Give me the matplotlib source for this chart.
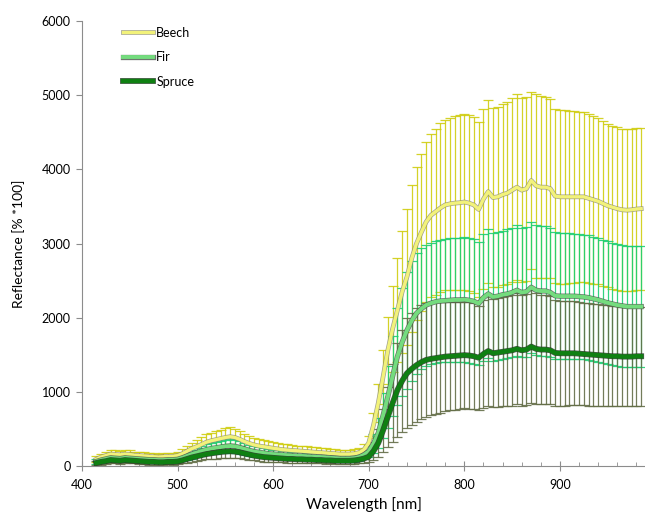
import numpy as np
import matplotlib
matplotlib.use('Agg')
import matplotlib.pyplot as plt
from matplotlib.ticker import MultipleLocator
import matplotlib.patheffects as pe

plt.rcParams['font.family'] = ['Lato', 'DejaVu Sans']

# band centres (nm), 415 ... 985
wavelength = np.arange(415, 990, 5)

beech_mean = [90, 120, 140, 160, 155, 150, 160, 155, 145, 140, 135, 130, 125, 120, 125, 130, 130, 140,
              165, 200, 235, 260, 290, 320, 340, 355, 370, 385, 395, 385, 360, 330, 305, 285, 270, 260,
              250, 240, 230, 220, 215, 210, 205, 200, 195, 190, 185, 180, 175, 170, 165, 160, 160, 160,
              165, 180, 220, 310, 550, 850, 1200, 1560, 1850, 2100, 2350, 2550, 2800, 3000, 3150, 3290, 3380, 3430,
              3480, 3520, 3535, 3545, 3550, 3560, 3545, 3520, 3460, 3600, 3700, 3620, 3630, 3660, 3680, 3720, 3760, 3720,
              3740, 3850, 3780, 3760, 3760, 3740, 3640, 3630, 3630, 3630, 3630, 3630, 3630, 3610, 3590, 3570, 3540, 3510,
              3490, 3470, 3455, 3450, 3455, 3465, 3470]
beech_sd = [40, 45, 50, 55, 55, 55, 55, 55, 50, 50, 50, 50, 45, 45, 45, 45, 45, 50,
            60, 70, 80, 90, 100, 105, 110, 115, 120, 125, 125, 120, 115, 105, 100, 95, 90, 85,
            85, 80, 80, 75, 75, 75, 70, 70, 70, 70, 65, 65, 65, 60, 60, 55, 55, 55,
            60, 65, 75, 100, 170, 260, 360, 450, 580, 700, 820, 920, 990, 1030, 1060, 1080, 1100, 1120,
            1140, 1150, 1160, 1170, 1180, 1190, 1190, 1190, 1180, 1210, 1230, 1210, 1210, 1220, 1230, 1240, 1250, 1240,
            1240, 1200, 1240, 1230, 1220, 1210, 1170, 1170, 1170, 1160, 1160, 1150, 1150, 1140, 1130, 1120, 1110, 1100,
            1100, 1100, 1090, 1090, 1090, 1090, 1090]

fir_mean = [60, 80, 95, 110, 105, 100, 110, 105, 100, 95, 90, 85, 85, 80, 80, 85, 85, 90,
            110, 135, 160, 180, 200, 220, 235, 245, 255, 265, 270, 265, 250, 230, 210, 195, 185, 175,
            165, 160, 155, 150, 145, 140, 135, 135, 130, 125, 125, 120, 115, 110, 105, 100, 100, 100,
            105, 120, 150, 195, 300, 445, 680, 935, 1210, 1475, 1670, 1830, 1960, 2060, 2120, 2170, 2195, 2215,
            2225, 2230, 2235, 2240, 2240, 2245, 2235, 2220, 2190, 2270, 2320, 2280, 2290, 2310, 2320, 2340, 2370, 2340,
            2350, 2410, 2370, 2360, 2360, 2340, 2295, 2290, 2290, 2290, 2290, 2285, 2280, 2270, 2255, 2240, 2220, 2200,
            2185, 2170, 2160, 2150, 2150, 2150, 2150]
fir_sd = [30, 35, 40, 45, 45, 45, 45, 45, 40, 40, 40, 40, 40, 35, 35, 35, 40, 40,
          45, 55, 60, 65, 70, 75, 80, 85, 85, 90, 90, 90, 85, 80, 75, 70, 65, 65,
          60, 60, 55, 55, 55, 55, 50, 50, 50, 50, 50, 50, 45, 45, 45, 45, 45, 45,
          45, 50, 60, 80, 130, 200, 300, 420, 540, 650, 730, 790, 810, 815, 815, 815, 815, 820,
          825, 830, 835, 840, 840, 845, 845, 840, 830, 860, 870, 860, 860, 865, 870, 875, 880, 875,
          875, 880, 875, 870, 870, 865, 855, 850, 850, 850, 845, 845, 840, 840, 835, 835, 830, 830,
          825, 825, 820, 820, 820, 820, 820]

spruce_mean = [40, 55, 65, 80, 75, 70, 80, 75, 70, 65, 60, 55, 55, 50, 50, 55, 55, 60,
               75, 95, 115, 130, 145, 160, 170, 180, 190, 195, 200, 195, 185, 170, 155, 140, 130, 120,
               115, 110, 105, 100, 95, 95, 90, 90, 85, 85, 80, 80, 75, 75, 70, 70, 70, 70,
               75, 85, 100, 125, 200, 310, 480, 665, 850, 1025, 1150, 1250, 1310, 1360, 1400, 1430, 1445, 1455,
               1465, 1475, 1480, 1485, 1490, 1495, 1490, 1480, 1460, 1510, 1550, 1520, 1530, 1540, 1550, 1560, 1580, 1560,
               1570, 1610, 1580, 1570, 1570, 1560, 1525, 1520, 1520, 1520, 1520, 1515, 1510, 1505, 1500, 1495, 1490, 1485,
               1480, 1480, 1475, 1475, 1475, 1480, 1480]
spruce_sd = [30, 35, 35, 40, 40, 40, 40, 40, 35, 35, 35, 35, 35, 30, 30, 30, 35, 35,
             40, 50, 55, 60, 65, 70, 75, 80, 85, 85, 90, 85, 80, 75, 70, 65, 60, 60,
             55, 55, 50, 50, 50, 50, 50, 45, 45, 45, 45, 45, 45, 40, 40, 40, 40, 40,
             45, 50, 55, 70, 120, 185, 290, 405, 520, 630, 690, 740, 755, 765, 765, 765, 760, 755,
             750, 740, 730, 725, 720, 715, 715, 715, 700, 730, 740, 730, 730, 735, 740, 745, 750, 745,
             750, 760, 750, 740, 735, 730, 715, 710, 705, 700, 700, 695, 690, 690, 685, 685, 680, 680,
             675, 675, 670, 670, 670, 670, 670]

for arr in (beech_mean, beech_sd, fir_mean, fir_sd, spruce_mean, spruce_sd):
    assert len(arr) == len(wavelength), len(arr)

series = [
    # name, mean, sd, bar colour, line colour, line width, outline colour
    ('Beech', beech_mean, beech_sd, '#d0cd10', '#f2f27a', 2.4, '#8a8a7a'),
    ('Fir', fir_mean, fir_sd, '#1ccf72', '#74dc7e', 2.8, '#4a544a'),
    ('Spruce', spruce_mean, spruce_sd, '#646e48', '#0f8012', 3.2, '#223022'),
]

fig = plt.figure(figsize=(6.45, 5.14), dpi=100)
ax = fig.add_axes([0.127, 0.0934, 0.873, 0.8656])

for name, m, s, ecol, lcol, lw, edge in series:
    ax.errorbar(wavelength, m, yerr=s, fmt='none', ecolor=ecol, elinewidth=0.9,
                capsize=3.5, capthick=0.9, alpha=0.9, zorder=2)
    ax.plot(wavelength, m, color=lcol, linewidth=lw, label=name, zorder=3,
            path_effects=[pe.Stroke(linewidth=lw + 1.0, foreground=edge, alpha=0.8), pe.Normal()])

ax.set_xlim(400, 989)
ax.set_ylim(0, 6000)
ax.xaxis.set_major_locator(MultipleLocator(100))
ax.xaxis.set_minor_locator(MultipleLocator(20))
ax.yaxis.set_major_locator(MultipleLocator(1000))

for side in ['top', 'right']:
    ax.spines[side].set_visible(False)
for side in ['left', 'bottom']:
    ax.spines[side].set_color('#8c8c8c')
ax.tick_params(axis='x', which='major', direction='inout', length=7, color='#8c8c8c',
               labelsize=9, pad=6)
ax.tick_params(axis='x', which='minor', direction='in', length=3, color='#8c8c8c')
ax.tick_params(axis='y', direction='out', length=4, color='#8c8c8c', labelsize=9, pad=4)

ax.set_xlabel('Wavelength [nm]', fontsize=11, labelpad=4)
ax.set_ylabel('Reflectance [% *100]', fontsize=10, labelpad=12)

ax.legend(loc='upper left', bbox_to_anchor=(0.19, 0.948), bbox_transform=fig.transFigure,
          frameon=False, fontsize=9, handlelength=2.4, handletextpad=0.3,
          labelspacing=1.0, borderpad=0, borderaxespad=0)

fig.savefig('out.png', dpi=100)
